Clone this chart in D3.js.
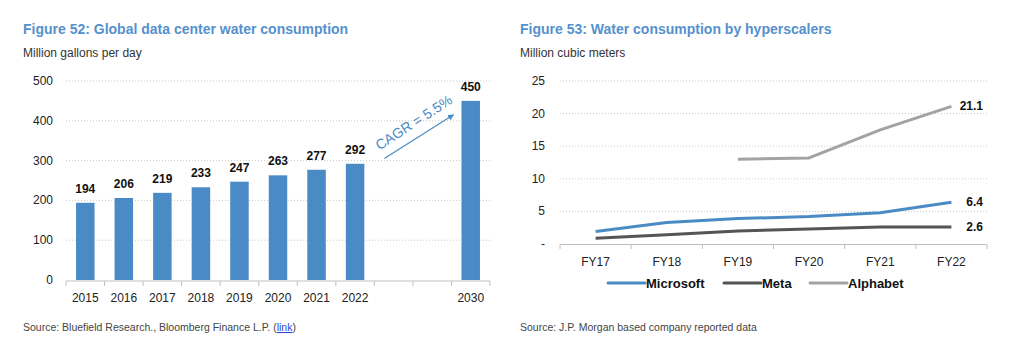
<!DOCTYPE html>
<html>
<head>
<meta charset="utf-8">
<script src="https://cdn.jsdelivr.net/npm/d3@7"></script>
<style>
  body { margin: 0; background: #fff; }
  svg text { font-family: "Liberation Sans", Arial, sans-serif; }
</style>
</head>
<body>
<div id="chart-area"></div>
<script>
// left chart data
var years = ["2015", "2016", "2017", "2018", "2019", "2020", "2021", "2022", "", "", "2030"];
var consumption = [194, 206, 219, 233, 247, 263, 277, 292, null, null, 450];
var leftTicks = [0, 100, 200, 300, 400, 500];

// right chart data
var fiscalYears = ["FY17", "FY18", "FY19", "FY20", "FY21", "FY22"];
var microsoft = [1.9, 3.3, 3.9, 4.2, 4.8, 6.4];
var meta = [0.9, 1.4, 2.0, 2.3, 2.6, 2.6];
var alphabet = [null, null, 13.0, 13.2, 17.5, 21.1];
var rightTicks = [0, 5, 10, 15, 20, 25];

var blue = "#4b8bc5";
var titleBlue = "#5591cc";

var svg = d3.select("#chart-area").append("svg")
    .attr("width", 1019)
    .attr("height", 350);

// ---------- Figure 52 ----------
svg.append("text").attr("x", 23).attr("y", 34)
    .attr("font-size", "14px").attr("font-weight", "bold").attr("fill", titleBlue)
    .text("Figure 52: Global data center water consumption");
svg.append("text").attr("x", 23).attr("y", 57)
    .attr("font-size", "12px").attr("fill", "#333")
    .text("Million gallons per day");

var x = d3.scaleBand()
    .domain(d3.range(years.length))
    .range([66, 490])
    .paddingInner(0.52)
    .paddingOuter(0.26);

var y = d3.scaleLinear()
    .domain([0, 500])
    .range([280, 81]);

// gridlines
svg.append("g").selectAll("line")
    .data(leftTicks.slice(1))
    .enter().append("line")
    .attr("x1", 66).attr("x2", 490)
    .attr("y1", d => y(d)).attr("y2", d => y(d))
    .attr("stroke", "#c8c8c8").attr("stroke-dasharray", "1,2");

// y labels
svg.append("g").selectAll("text")
    .data(leftTicks)
    .enter().append("text")
    .attr("x", 53).attr("y", d => y(d) + 4)
    .attr("text-anchor", "end").attr("font-size", "12px").attr("fill", "#222")
    .text(d => d);

// bars
var barData = consumption.map((v, i) => ({ i: i, v: v })).filter(d => d.v != null);
svg.append("g").selectAll("rect")
    .data(barData)
    .enter().append("rect")
    .attr("x", d => x(d.i))
    .attr("y", d => y(d.v))
    .attr("width", x.bandwidth())
    .attr("height", d => y(0) - y(d.v))
    .attr("fill", blue);

svg.append("g").selectAll("text")
    .data(barData)
    .enter().append("text")
    .attr("x", d => x(d.i) + x.bandwidth() / 2)
    .attr("y", d => y(d.v) - 10)
    .attr("text-anchor", "middle").attr("font-size", "12px").attr("font-weight", "bold").attr("fill", "#111")
    .text(d => d.v);

// x axis: baseline, ticks between categories, labels
var step = x.step();
var x0 = x.range()[0];
svg.append("line").attr("x1", 66).attr("x2", 490).attr("y1", 281).attr("y2", 281)
    .attr("stroke", "#c0c0c0");
svg.append("g").selectAll("line")
    .data(d3.range(years.length + 1))
    .enter().append("line")
    .attr("x1", i => x0 + i * step).attr("x2", i => x0 + i * step)
    .attr("y1", 281).attr("y2", 286)
    .attr("stroke", "#c0c0c0");
svg.append("g").selectAll("text")
    .data(years)
    .enter().append("text")
    .attr("x", (d, i) => x(i) + x.bandwidth() / 2)
    .attr("y", 302)
    .attr("text-anchor", "middle").attr("font-size", "12px").attr("fill", "#222")
    .text(d => d);

// CAGR annotation
var ax1 = x(8), ay1 = y(305);
var ax2 = x(10) - 8, ay2 = y(415);
var defs = svg.append("defs");
defs.append("marker").attr("id", "arrow")
    .attr("viewBox", "0 0 10 10").attr("refX", 9).attr("refY", 5)
    .attr("markerWidth", 5).attr("markerHeight", 5).attr("orient", "auto")
    .append("path").attr("d", "M0,0 L10,5 L0,10 z").attr("fill", blue);
svg.append("line")
    .attr("x1", ax1).attr("y1", ay1).attr("x2", ax2).attr("y2", ay2)
    .attr("stroke", blue).attr("stroke-width", 1.2)
    .attr("marker-end", "url(#arrow)");
svg.append("text")
    .attr("transform", "translate(" + (ax1 - 5) + "," + (ay1 - 8) + ") rotate(-33)")
    .attr("font-size", "14px").attr("fill", blue)
    .text("CAGR = 5.5%");

// source
var src = svg.append("text").attr("x", 23).attr("y", 331)
    .attr("font-size", "10.5px").attr("fill", "#444");
src.append("tspan").text("Source: Bluefield Research., Bloomberg Finance L.P. (");
src.append("tspan").attr("fill", "#3344dd").attr("text-decoration", "underline").text("link");
src.append("tspan").text(")");

// ---------- Figure 53 ----------
svg.append("text").attr("x", 520).attr("y", 34)
    .attr("font-size", "14px").attr("font-weight", "bold").attr("fill", titleBlue)
    .text("Figure 53: Water consumption by hyperscalers");
svg.append("text").attr("x", 520).attr("y", 57)
    .attr("font-size", "12px").attr("fill", "#333")
    .text("Million cubic meters");

var x2 = d3.scaleBand()
    .domain(fiscalYears)
    .range([560, 987]);

var y2 = d3.scaleLinear()
    .domain([0, 25])
    .range([244, 81]);

svg.append("g").selectAll("line")
    .data(rightTicks.slice(1))
    .enter().append("line")
    .attr("x1", 560).attr("x2", 987)
    .attr("y1", d => y2(d)).attr("y2", d => y2(d))
    .attr("stroke", "#c8c8c8").attr("stroke-dasharray", "1,2");

svg.append("g").selectAll("text")
    .data(rightTicks)
    .enter().append("text")
    .attr("x", 545).attr("y", d => y2(d) + 4)
    .attr("text-anchor", "end").attr("font-size", "12px").attr("fill", "#222")
    .text(d => d === 0 ? "-" : d);

svg.append("line").attr("x1", 560).attr("x2", 987).attr("y1", 244.5).attr("y2", 244.5)
    .attr("stroke", "#c0c0c0");
svg.append("g").selectAll("line")
    .data(d3.range(fiscalYears.length + 1))
    .enter().append("line")
    .attr("x1", i => 560 + i * x2.step()).attr("x2", i => 560 + i * x2.step())
    .attr("y1", 244.5).attr("y2", 249)
    .attr("stroke", "#c0c0c0");
svg.append("g").selectAll("text")
    .data(fiscalYears)
    .enter().append("text")
    .attr("x", d => x2(d) + x2.bandwidth() / 2)
    .attr("y", 266)
    .attr("text-anchor", "middle").attr("font-size", "12px").attr("fill", "#222")
    .text(d => d);

var series = [
    { name: "Microsoft", values: microsoft, color: blue },
    { name: "Meta", values: meta, color: "#555555" },
    { name: "Alphabet", values: alphabet, color: "#a3a3a3" }
];

var line = d3.line()
    .defined(d => d != null)
    .x((d, i) => x2(fiscalYears[i]) + x2.bandwidth() / 2)
    .y(d => y2(d));

svg.append("g").selectAll("path")
    .data(series)
    .enter().append("path")
    .attr("d", d => line(d.values))
    .attr("fill", "none")
    .attr("stroke", d => d.color)
    .attr("stroke-width", 3)
    .attr("stroke-linejoin", "round");

// end labels
svg.append("g").selectAll("text")
    .data(series)
    .enter().append("text")
    .attr("x", 983)
    .attr("y", d => y2(d.values[d.values.length - 1]) + 4)
    .attr("text-anchor", "end").attr("font-size", "12px").attr("font-weight", "bold").attr("fill", "#111")
    .text(d => d.values[d.values.length - 1].toFixed(1));

// legend
var legendX = [608, 724, 810];
var lg = svg.append("g").selectAll("g")
    .data(series)
    .enter().append("g")
    .attr("transform", (d, i) => "translate(" + legendX[i] + ",283)");
lg.append("line").attr("x1", 0).attr("x2", 37).attr("y1", 0).attr("y2", 0)
    .attr("stroke", d => d.color).attr("stroke-width", 3).attr("stroke-linecap", "round");
lg.append("text").attr("x", 38).attr("y", 5)
    .attr("font-size", "13px").attr("font-weight", "bold").attr("fill", "#111")
    .text(d => d.name);

svg.append("text").attr("x", 520).attr("y", 331)
    .attr("font-size", "10.5px").attr("fill", "#444")
    .text("Source: J.P. Morgan based company reported data");
</script>
</body>
</html>
